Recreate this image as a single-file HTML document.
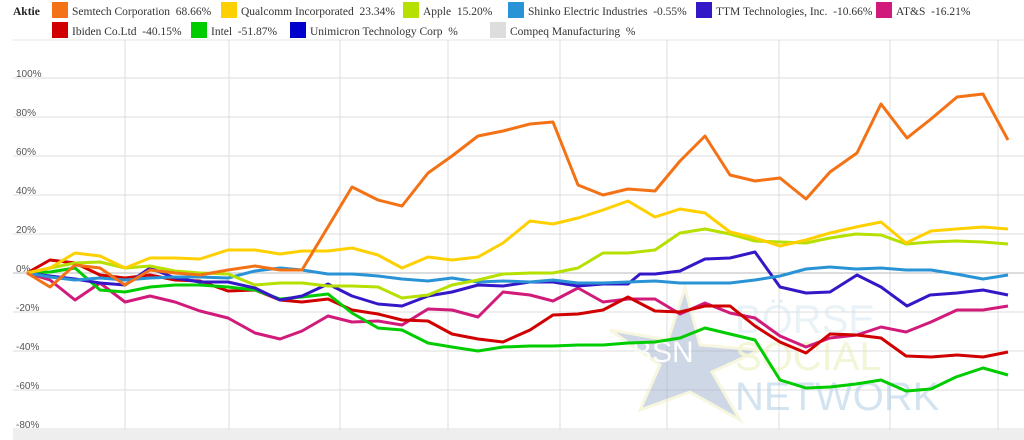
<!DOCTYPE html>
<html><head><meta charset="utf-8"><style>
body{margin:0;background:#fff;width:1024px;height:440px;overflow:hidden;font-family:"Liberation Serif",serif;}
</style></head><body>
<svg width="1024" height="440" xmlns="http://www.w3.org/2000/svg" style="position:absolute;left:0;top:0">
<g font-family="Liberation Serif, serif" font-size="11.5" fill="#333">
<text x="13" y="15" font-weight="bold" fill="#222">Aktie</text>
<rect x="52" y="2" width="16" height="16" fill="#f47216"/><text x="72" y="15">Semtech Corporation&#160; 68.66%</text>
<rect x="221" y="2" width="16" height="16" fill="#ffd000"/><text x="241" y="15">Qualcomm Incorporated&#160; 23.34%</text>
<rect x="403" y="2" width="16" height="16" fill="#b5e000"/><text x="423" y="15">Apple&#160; 15.20%</text>
<rect x="508" y="2" width="16" height="16" fill="#2a93d5"/><text x="528" y="15">Shinko Electric Industries&#160; -0.55%</text>
<rect x="696" y="2" width="16" height="16" fill="#3318c8"/><text x="716" y="15">TTM Technologies, Inc.&#160; -10.66%</text>
<rect x="876" y="2" width="16" height="16" fill="#d11b7a"/><text x="896" y="15">AT&amp;S&#160; -16.21%</text>
<rect x="52" y="22" width="16" height="16" fill="#d00000"/><text x="72" y="35">Ibiden Co.Ltd&#160; -40.15%</text>
<rect x="191" y="22" width="16" height="16" fill="#00cc00"/><text x="211" y="35">Intel&#160; -51.87%</text>
<rect x="290" y="22" width="16" height="16" fill="#0000cc"/><text x="310" y="35">Unimicron Technology Corp&#160; %</text>
<rect x="490" y="22" width="16" height="16" fill="#dddddd"/><text x="510" y="35">Compeq Manufacturing&#160; %</text>
</g>
<line x1="13" y1="40" x2="1024" y2="40" stroke="#e6e6e6"/>
<g stroke="#ddd" stroke-width="1">
<line x1="125" y1="40" x2="125" y2="430"/><line x1="229" y1="40" x2="229" y2="430"/><line x1="340" y1="40" x2="340" y2="430"/><line x1="448" y1="40" x2="448" y2="430"/><line x1="560" y1="40" x2="560" y2="430"/><line x1="667" y1="40" x2="667" y2="430"/><line x1="779" y1="40" x2="779" y2="430"/><line x1="890" y1="40" x2="890" y2="430"/><line x1="998" y1="40" x2="998" y2="430"/>
<line x1="13" y1="78" x2="1024" y2="78"/><line x1="13" y1="117" x2="1024" y2="117"/><line x1="13" y1="156" x2="1024" y2="156"/><line x1="13" y1="195" x2="1024" y2="195"/><line x1="13" y1="234" x2="1024" y2="234"/><line x1="13" y1="312" x2="1024" y2="312"/><line x1="13" y1="351" x2="1024" y2="351"/><line x1="13" y1="390" x2="1024" y2="390"/><line x1="13" y1="429" x2="1024" y2="429"/>
</g>
<line x1="13" y1="273" x2="1024" y2="273" stroke="#bbb"/>
<rect x="13" y="430" width="1011" height="10" fill="#eeeeee"/>
<g font-family="Liberation Sans, sans-serif" font-size="10" fill="#555">
<text x="16" y="77">100%</text><text x="16" y="116">80%</text><text x="16" y="155">60%</text><text x="16" y="194">40%</text><text x="16" y="233">20%</text><text x="16" y="272">0%</text><text x="16" y="311">-20%</text><text x="16" y="350">-40%</text><text x="16" y="389">-60%</text><text x="16" y="428">-80%</text>
</g>
<g opacity="0.5">
<polygon points="685,288 700,345 760,350 712,372 740,420 690,392 640,410 660,365 610,330 668,340" fill="#9fb0cf" stroke="#f0efc0" stroke-width="3"/>
<text x="632" y="362" font-family="Liberation Sans, sans-serif" font-size="30" fill="#fff">BSN</text>
<text x="735" y="333" font-family="Liberation Sans, sans-serif" font-size="40" fill="#d5e6f0">BÖRSE</text>
<text x="735" y="370" font-family="Liberation Sans, sans-serif" font-size="40" fill="#e8ecb0">SOCIAL</text>
<text x="735" y="410" font-family="Liberation Sans, sans-serif" font-size="40" fill="#a9cbe2">NETWORK</text>
</g>
<g fill="none" stroke-width="3" stroke-linejoin="round">
<polyline stroke="#d11b7a" points="27,273 50,280 75,300 100,283 125,302 150,296 175,302 200,311 228,318 255,333 280,339 302,331 328,316 352,322 378,321 402,325 428,309 452,310 478,317 503,292 530,295 553,301 578,288 603,302 628,299 655,299 680,314 705,303 730,313 755,318 780,336 806,347 830,338 857,335 881,327 906,332 931,322 957,310 983,310 1008,306"/>
<polyline stroke="#d00000" points="27,273 50,260 75,263 100,275 125,278 150,275 175,280 200,281 228,291 255,290 280,300 302,302 328,299 352,310 378,314 402,320 428,321 452,334 478,339 503,342 530,330 553,315 578,314 603,310 628,297 655,311 680,312 705,306 730,306 755,326 780,342 806,353 830,334 857,335 881,338 906,356 931,357 957,355 983,357 1008,352"/>
<polyline stroke="#00cc00" points="27,273 50,272 75,268 100,290 125,292 150,287 175,285 200,285 228,287 255,290 280,299 302,297 328,294 352,313 378,328 402,330 428,343 452,347 478,351 503,347 530,346 553,346 578,345 603,345 628,343 655,342 680,338 705,328 730,334 755,340 780,380 806,388 830,387 856,384 881,380 906,391 931,389 956,377 983,368 1008,375"/>
<polyline stroke="#3318c8" points="27,273 50,276 75,279 100,283 125,285 150,268 175,278 200,282 228,282 255,288 280,300 302,296 328,284 352,296 378,304 402,306 428,296 452,292 478,285 503,286 530,282 553,282 578,286 603,284 628,284 640,274 655,274 680,271 705,259 730,258 755,252 780,287 806,293 830,292 857,275 881,287 907,306 930,295 957,293 983,290 1008,295"/>
<polyline stroke="#2a93d5" points="27,273 50,277 75,280 100,278 125,280 150,278 175,277 200,277 228,278 255,271 280,268 302,270 328,274 352,274 378,276 402,279 428,281 452,278 478,282 503,281 530,282 553,280 578,283 603,283 628,282 655,281 680,283 705,283 730,283 755,280 780,276 806,269 830,267 856,269 881,268 906,270 931,270 956,274 983,279 1008,275"/>
<polyline stroke="#b5e000" points="27,273 50,268 75,263 100,262 125,268 150,266 175,271 200,273 228,274 255,285 280,283 302,283 328,286 352,286 378,287 402,298 428,295 452,285 478,280 503,274 530,273 553,273 578,268 603,253 628,253 655,250 680,233 705,229 730,234 755,241 780,242 806,243 830,238 856,234 881,235 906,244 931,242 956,241 983,242 1008,244"/>
<polyline stroke="#ffd000" points="27,273 50,268 75,253 100,256 125,268 150,258 175,258 200,259 228,250 255,250 280,254 302,251 328,251 352,248 378,255 402,268 428,257 452,260 478,257 503,243 530,221 553,224 578,218 603,210 628,201 655,217 680,209 705,213 730,232 755,238 780,246 806,240 830,233 856,227 881,222 906,243 931,231 956,229 983,227 1008,229"/>
<polyline stroke="#f47216" points="27,273 50,287 75,265 100,268 125,285 150,270 175,273 200,275 228,270 255,266 280,270 302,270 352,187 378,200 402,206 428,173 452,156 478,136 503,131 530,124 553,122 578,185 603,195 628,189 655,191 680,161 705,136 730,175 755,181 780,178 806,199 830,172 857,153 881,104 907,138 931,119 957,97 983,94 1008,140"/>
</g>
</svg>
</body></html>
